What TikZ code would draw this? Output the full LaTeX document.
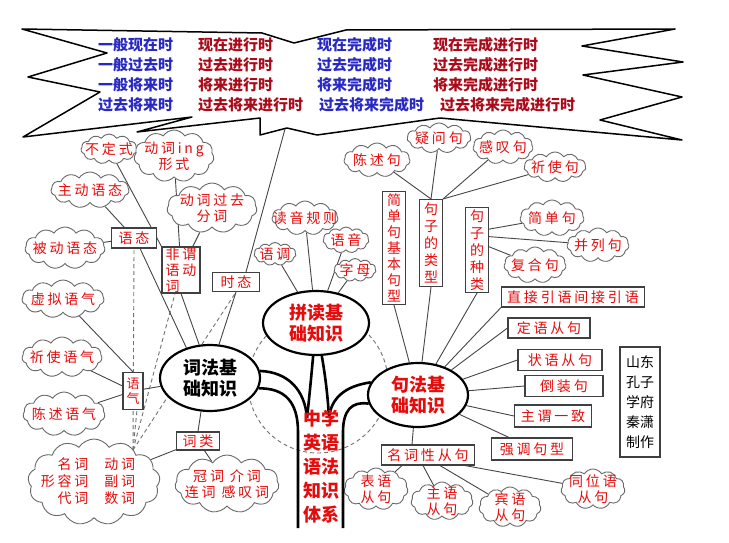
\documentclass[tikz,border=0pt]{standalone}
\usepackage{fontspec}
\usetikzlibrary{shapes.symbols,shapes.geometric}
\newfontfamily\cjk{Noto Sans CJK SC}
\newfontfamily\cjksp{Noto Sans CJK SC}[LetterSpace=20]
\definecolor{lred}{RGB}{228,12,12}
\definecolor{hblue}{RGB}{40,40,195}
\definecolor{hred}{RGB}{170,10,25}
\definecolor{lgray}{RGB}{70,70,70}
\definecolor{cgray}{RGB}{105,105,105}
\pgfdeclarelayer{back}
\pgfdeclarelayer{bg}
\pgfsetlayers{back,bg,main}
\newcommand{\cldnode}[5]{%
  \node[cloudsh, minimum width=#3pt, minimum height=#4pt] (#1) at #2 {};
  \node[lab] (#1t) at (#1) {#5};}
\begin{document}
\begin{tikzpicture}[x=1pt,y=-1pt,
  cloudsh/.style={cloud, cloud puffs=11, cloud puff arc=115, cloud ignores aspect, draw=cgray, line width=0.9pt, fill=white, inner sep=0pt},
  lab/.style={text=lred, font=\cjksp\fontsize{14}{16}\selectfont, align=center, inner sep=0pt},
  boxn/.style={draw=black!75, line width=1.1pt, fill=white, inner sep=0pt, text=lred, font=\cjksp\fontsize{14}{16}\selectfont, align=center},
  vbox/.style={boxn, font=\cjk\fontsize{14}{16}\selectfont},
  elln/.style={ellipse, draw=black, line width=2.2pt, fill=white, inner sep=0pt, font=\cjk\bfseries\fontsize{18}{21}\selectfont, align=center},
  conn/.style={draw=lgray, line width=0.9pt},
  dconn/.style={draw=black!55, line width=0.9pt, dash pattern=on 4pt off 3pt},
  trunk/.style={draw=black, line width=2.6pt},
  hb/.style={anchor=west, text=hblue, font=\cjk\bfseries\fontsize{15}{17}\selectfont, inner sep=0pt},
  hr/.style={hb, text=hred}]
\useasboundingbox (0,0) rectangle (729,543);
\begin{pgfonlayer}{back}
\fill[white] (0,0) rectangle (729,543);
\draw[line width=1.5pt, fill=white, line join=round]
 (22,29) -- (262,33) -- (294,43) -- (346,30) -- (675,29) -- (582,46) -- (683,62)
 -- (583,75) -- (682,97) -- (600,120) -- (682,140) -- (440,118) -- (317,135)
 -- (287,128) -- (260,135) -- (260,118) -- (137,132) -- (192,117) -- (23,137)
 -- (100,92) -- (28,77) -- (107,53) -- cycle;
\end{pgfonlayer}
% header
\node[hb] (h11) at (98,45) {一般现在时};
\node[hr] (h12) at (198,45) {现在进行时};
\node[hb] (h13) at (317,45) {现在完成时};
\node[hr] (h14) at (433,45) {现在完成进行时};
\node[hb] (h21) at (98,65) {一般过去时};
\node[hr] (h22) at (198,65) {过去进行时};
\node[hb] (h23) at (317,65) {过去完成时};
\node[hr] (h24) at (433,65) {过去完成进行时};
\node[hb] (h31) at (98,85) {一般将来时};
\node[hr] (h32) at (198,85) {将来进行时};
\node[hb] (h33) at (317,85) {将来完成时};
\node[hr] (h34) at (433,85) {将来完成进行时};
\node[hb] (h41) at (98,105) {过去将来时};
\node[hr] (h42) at (198,105) {过去将来进行时};
\node[hb] (h43) at (319,105) {过去将来完成时};
\node[hr] (h44) at (440,105) {过去将来完成进行时};
% ellipses
\node[elln, minimum width=100pt, minimum height=66pt] (ecf) at (210,378) {词法基\\础知识};
\node[elln, text=lred, minimum width=106pt, minimum height=64pt] (epd) at (316,323) {拼读基\\础知识};
\node[elln, text=lred, minimum width=100pt, minimum height=64pt] (ejf) at (418,395) {句法基\\础知识};
% clouds
\cldnode{cbds}{(109,149)}{56}{30}{不定式}
\cldnode{cing}{(174,156)}{80}{52}{动词ing\\形式}
\cldnode{czd}{(90,190)}{78}{36}{主动语态}
\cldnode{cgq}{(212,208)}{90}{50}{动词过去\\分词}
\cldnode{cbd}{(65,248)}{80}{42}{被动语态}
\cldnode{cxn}{(63,299)}{82}{38}{虚拟语气}
\cldnode{cqs}{(62,357)}{80}{40}{祈使语气}
\cldnode{ccs}{(64,414)}{82}{44}{陈述语气}
\node[cloudsh, cloud puffs=13, minimum width=132pt, minimum height=86pt] (cbig) at (94,482) {};
\node[lab] (cbigt) at (88,483) {\begin{tabular}{@{}r@{\hspace{16pt}}l@{}}名词&动词\\形容词&副词\\代词&数词\end{tabular}};
\cldnode{cgj}{(227,484)}{104}{58}{冠词 介词\\连词 感叹词}
\cldnode{cdy}{(305,218)}{66}{34}{读音规则}
\cldnode{cyd}{(275,254)}{42}{23}{语调}
\cldnode{cyy}{(346,240)}{46}{26}{语音}
\cldnode{czm}{(355,270)}{42}{23}{字母}
\cldnode{ccsj}{(377,160)}{66}{34}{陈述句}
\cldnode{cywj}{(439,138)}{64}{30}{疑问句}
\cldnode{cgtj}{(503,147)}{60}{34}{感叹句}
\cldnode{cqsj}{(555,167)}{62}{30}{祈使句}
\cldnode{cjdj}{(552,218)}{64}{36}{简单句}
\cldnode{cblj}{(598,245)}{62}{34}{并列句}
\cldnode{cfhj}{(535,265)}{62}{36}{复合句}
\cldnode{cby}{(376,489)}{64}{42}{表语\\从句}
\cldnode{czy}{(442,501)}{62}{38}{主语\\从句}
\cldnode{cbyc}{(510,507)}{62}{40}{宾语\\从句}
\cldnode{ctw}{(593,489)}{64}{40}{同位语\\从句}
% boxes
\node[boxn, minimum width=45pt, minimum height=20pt] (byt) at (134,238) {语态};
\node[boxn, align=left, minimum width=38pt, minimum height=46pt] (bfw) at (181,270) {非谓\\语动\\词};
\node[boxn, minimum width=47pt, minimum height=19pt] (bst) at (236,282) {时态};
\node[vbox, font=\cjk\fontsize{13}{15}\selectfont, minimum width=20pt, minimum height=37pt] (byq) at (133,391) {语\\气};
\node[boxn, minimum width=43pt, minimum height=18pt] (bcl) at (198,441) {词类};
\node[vbox, minimum width=23pt, minimum height=113pt] (bjd) at (394,248) {简\\单\\句\\基\\本\\句\\型};
\node[vbox, font=\cjk\fontsize{14}{17}\selectfont, minimum width=23pt, minimum height=87pt] (blx) at (431,243) {句\\子\\的\\类\\型};
\node[vbox, font=\cjk\fontsize{14}{17}\selectfont, minimum width=23pt, minimum height=85pt] (bzl) at (477,250) {句\\子\\的\\种\\类};
\node[boxn, minimum width=143pt, minimum height=20pt] (bzj) at (573,297) {直接引语间接引语};
\node[boxn, minimum width=82pt, minimum height=20pt] (bdy) at (549,328) {定语从句};
\node[boxn, minimum width=84pt, minimum height=21pt] (bzy) at (560,360) {状语从句};
\node[boxn, minimum width=78pt, minimum height=21pt] (bdz) at (564,386) {倒装句};
\node[boxn, minimum width=77pt, minimum height=22pt] (bzw) at (553,416) {主谓一致};
\node[boxn, minimum width=81pt, minimum height=22pt] (bqd) at (532,449) {强调句型};
\node[boxn, minimum width=93pt, minimum height=20pt] (bmc) at (428,455) {名词性从句};
\node[boxn, text=black, font=\cjk\fontsize{14}{20}\selectfont, minimum width=40pt, minimum height=110pt] (bsd) at (640,402) {山东\\孔子\\学府\\秦潇\\制作};
% coordinates
\coordinate (bur) at (285,129);
\coordinate (conv) at (133,450);
\coordinate (dc) at (318,383);
\coordinate (j1) at (307,418);
\coordinate (j2) at (329,418);
\coordinate (tlb) at (298,528);
\coordinate (trb) at (343,528);
\begin{pgfonlayer}{bg}
\draw[dconn] (dc) circle[radius=70pt];
\draw[dconn] (conv) -- (byt.south);
\draw[dconn] (conv) -- ([xshift=-6pt]bfw.south);
\draw[dconn] (conv) -- (bst.south);
\draw[dconn] (conv) -- ([xshift=4pt]byq.south);
\draw[conn] (cbds) -- (bfw.north west);
\draw[conn] (cing) -- (bfw);
\draw[conn] (cgq) -- (bfw);
\draw[conn] (czd) -- (byt);
\draw[conn] (cbd) -- (byt);
\draw[conn] (byt.-60) -- (ecf.128);
\draw[conn] (bfw.south) -- (ecf.108);
\draw[conn] (bst.south) -- (ecf.75);
\draw[conn] (bur) -- ([xshift=10pt]bst.north);
\draw[conn] (cxn) -- (byq.north);
\draw[conn] (cqs) -- (byq);
\draw[conn] (ccs) -- (byq);
\draw[conn] (byq) -- (ecf);
\draw[conn] (ecf.-105) -- (bcl.north);
\draw[conn] (bcl) -- (cbig);
\draw[conn] (bcl) -- (cgj);
\draw[conn] (cdy) -- (epd);
\draw[conn] (cyd) -- (epd);
\draw[conn] (cyy) -- (epd);
\draw[conn] (czm) -- (epd);
\draw[conn] (ccsj) -- (blx.north);
\draw[conn] (cywj) -- (blx.north);
\draw[conn] (cgtj) -- (blx.north east);
\draw[conn] (cqsj) -- (blx.north east);
\draw[conn] (bzl.60) -- (cjdj);
\draw[conn] (bzl.48) -- (cblj);
\draw[conn] (bzl.15) -- (cfhj);
\draw[conn] (ejf) -- (bjd.south);
\draw[conn] (ejf) -- (blx.south);
\draw[conn] (ejf) -- (bzl.south);
\draw[conn] (ejf) -- (bzj.south west);
\draw[conn] (ejf) -- (bdy.west);
\draw[conn] (ejf) -- (bzy.west);
\draw[conn] (ejf) -- (bdz.west);
\draw[conn] (ejf) -- (bzw.west);
\draw[conn] (ejf) -- ([xshift=18pt]bqd.north west);
\draw[conn] (ejf.-98) -- ([xshift=-16pt]bmc.north);
\draw[conn] ([xshift=-26pt]bmc.south) -- (cby);
\draw[conn] ([xshift=-5pt]bmc.south) -- (czy);
\draw[conn] ([xshift=12pt]bmc.south) -- (cbyc);
\draw[conn] ([xshift=37pt]bmc.south) -- (ctw);
\end{pgfonlayer}
% trunk
\draw[trunk] (ecf.-12) .. controls (285,388) and (298,402) .. (298,432) -- (tlb);
\draw[trunk] (ecf.8) .. controls (288,372) and (305,390) .. (j1);
\draw[trunk] (epd.-95) .. controls (311,380) and (309,400) .. (j1);
\draw[trunk] (epd.-80) .. controls (326,380) and (328,400) .. (j2);
\draw[trunk] (ejf.165) .. controls (345,386) and (331,398) .. (j2);
\draw[trunk] (ejf.190) .. controls (352,401) and (343,410) .. (343,432) -- (trb);
\node[text=lred, font=\cjk\bfseries\fontsize{18}{24}\selectfont, align=center, inner sep=0pt] (tt) at (321,467) {中学\\英语\\语法\\知识\\体系};
\end{tikzpicture}
\end{document}
